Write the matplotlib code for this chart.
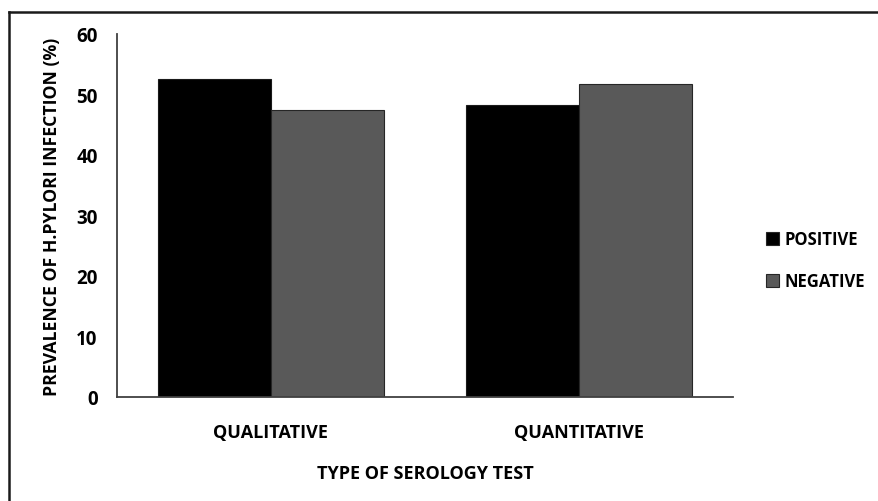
import matplotlib
matplotlib.use("Agg")
import matplotlib.pyplot as plt
import numpy as np
from matplotlib.lines import Line2D

categories = ["QUALITATIVE", "QUANTITATIVE"]
series_names = ["POSITIVE", "NEGATIVE"]
positive = [52.6, 48.3]
negative = [47.4, 51.7]
y_ticks = [0, 10, 20, 30, 40, 50, 60]

plt.rcParams['font.family'] = ['Open Sans', 'DejaVu Sans']
plt.rcParams['font.weight'] = 'bold'

fig = plt.figure(figsize=(8.79, 5.02), dpi=100)
ax = fig.add_axes([117/879, 1-398/502, (733-117)/879, (398-35)/502])

x = np.arange(len(categories))
w = 0.367
ax.bar(x - w/2, positive, w, color="#000000", edgecolor="#1a1a1a", linewidth=0.8, label=series_names[0])
ax.bar(x + w/2, negative, w, color="#595959", edgecolor="#262626", linewidth=0.8, label=series_names[1])

ax.set_xlim(-0.5, 1.5)
ax.set_ylim(0, 60)
ax.set_yticks(y_ticks)
ax.set_xticks(x)
ax.set_xticklabels(categories, fontsize=13, fontweight='bold')
ax.tick_params(axis='y', length=0, pad=14, labelsize=13.5)
ax.tick_params(axis='x', length=0, pad=19)
for lab in ax.get_yticklabels():
    lab.set_fontweight('bold')
for s in ['top', 'right']:
    ax.spines[s].set_visible(False)
for s in ['left', 'bottom']:
    ax.spines[s].set_color('#404040')
    ax.spines[s].set_linewidth(1.3)

ax.set_xlabel("TYPE OF SEROLOGY TEST", fontsize=13, fontweight='bold', labelpad=16)
ax.set_ylabel("PREVALENCE OF H.PYLORI INFECTION (%)", fontsize=12.7, fontweight='bold', labelpad=11)

leg = fig.legend(loc='center left', bbox_to_anchor=(751/879, 1-261/502), frameon=False,
                 handlelength=0.8, handleheight=0.8, handletextpad=0.3, labelspacing=1.45,
                 prop={'weight': 'bold', 'size': 12})
for h in leg.legend_handles:
    h.set_edgecolor('#262626')

# figure border (top and left visible)
fig.add_artist(Line2D([9/879, 1.0], [1-12.5/502, 1-12.5/502], color='#1a1a1a', linewidth=1.8, transform=fig.transFigure))
fig.add_artist(Line2D([9/879, 9/879], [0, 1-12.5/502], color='#1a1a1a', linewidth=1.8, transform=fig.transFigure))

fig.savefig("out.png", dpi=100)
